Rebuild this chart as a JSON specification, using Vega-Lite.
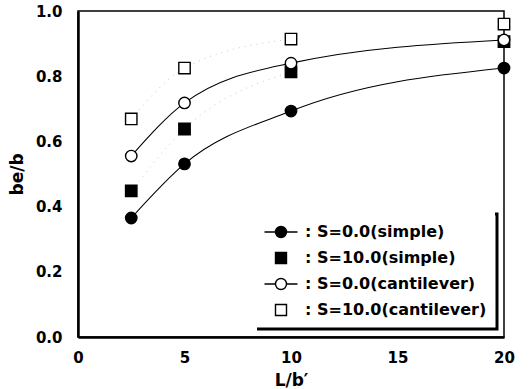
{
  "$schema": "https://vega.github.io/schema/vega-lite/v6.json",
  "width": 426,
  "height": 326,
  "autosize": "none",
  "padding": {"left": 78, "top": 11, "right": 28, "bottom": 52},
  "background": "white",
  "config": {
    "view": {"stroke": "black", "strokeWidth": 1.5},
    "font": "DejaVu Sans"
  },
  "data": {
    "values": [
      {"x": 2.5, "y": 0.365, "series": "S=0.0(simple)"},
      {"x": 5, "y": 0.531, "series": "S=0.0(simple)"},
      {"x": 10, "y": 0.693, "series": "S=0.0(simple)"},
      {"x": 20, "y": 0.825, "series": "S=0.0(simple)"},
      {"x": 2.5, "y": 0.448, "series": "S=10.0(simple)"},
      {"x": 5, "y": 0.638, "series": "S=10.0(simple)"},
      {"x": 10, "y": 0.813, "series": "S=10.0(simple)"},
      {"x": 20, "y": 0.906, "series": "S=10.0(simple)"},
      {"x": 2.5, "y": 0.555, "series": "S=0.0(cantilever)"},
      {"x": 5, "y": 0.718, "series": "S=0.0(cantilever)"},
      {"x": 10, "y": 0.84, "series": "S=0.0(cantilever)"},
      {"x": 20, "y": 0.911, "series": "S=0.0(cantilever)"},
      {"x": 2.5, "y": 0.669, "series": "S=10.0(cantilever)"},
      {"x": 5, "y": 0.825, "series": "S=10.0(cantilever)"},
      {"x": 10, "y": 0.914, "series": "S=10.0(cantilever)"},
      {"x": 20, "y": 0.96, "series": "S=10.0(cantilever)"}
    ]
  },
  "encoding": {
    "x": {
      "field": "x",
      "type": "quantitative",
      "scale": {"domain": [0, 20], "nice": false, "zero": false},
      "axis": {
        "values": [0, 5, 10, 15, 20],
        "format": "d",
        "labelFontSize": 15,
        "labelFontWeight": "bold",
        "labelColor": "black",
        "labelFlush": false,
        "domainColor": "black",
        "domainWidth": 2.5,
        "ticks": false,
        "grid": false,
        "labelPadding": 13,
        "title": "L/b′",
        "titleFontSize": 17,
        "titleFontWeight": "bold",
        "titleColor": "black",
        "titlePadding": 7
      }
    },
    "y": {
      "field": "y",
      "type": "quantitative",
      "scale": {"domain": [0, 1], "nice": false},
      "axis": {
        "values": [0, 0.2, 0.4, 0.6, 0.8, 1.0],
        "format": ".1f",
        "labelFontSize": 15,
        "labelFontWeight": "bold",
        "labelColor": "black",
        "labelFlush": false,
        "domainColor": "black",
        "domainWidth": 2.5,
        "ticks": false,
        "grid": false,
        "labelPadding": 16,
        "title": "be/b",
        "titleFontSize": 17,
        "titleFontWeight": "bold",
        "titleColor": "black",
        "titlePadding": 9
      }
    }
  },
  "layer": [
    {
      "transform": [{"filter": "indexof(datum.series, 'S=0.0') == 0"}],
      "mark": {"type": "line", "interpolate": "monotone", "color": "black", "strokeWidth": 1.1},
      "encoding": {"detail": {"field": "series"}}
    },
    {
      "transform": [{"filter": "indexof(datum.series, 'S=10.0') == 0 && datum.x < 15"}],
      "mark": {"type": "line", "interpolate": "monotone", "color": "#c8c8c8", "strokeWidth": 1, "strokeDash": [1, 5]},
      "encoding": {"detail": {"field": "series"}}
    },
    {
      "mark": {"type": "point", "filled": true, "stroke": "black", "strokeWidth": 1.4, "size": 130, "opacity": 1},
      "encoding": {
        "shape": {
          "field": "series",
          "type": "nominal",
          "scale": {
            "domain": ["S=0.0(simple)", "S=10.0(simple)", "S=0.0(cantilever)", "S=10.0(cantilever)"],
            "range": ["circle", "square", "circle", "square"]
          },
          "legend": null
        },
        "fill": {
          "field": "series",
          "type": "nominal",
          "scale": {
            "domain": ["S=0.0(simple)", "S=10.0(simple)", "S=0.0(cantilever)", "S=10.0(cantilever)"],
            "range": ["black", "black", "white", "white"]
          },
          "legend": null
        }
      }
    },
    {
      "mark": {"type": "point", "filled": true, "stroke": "black", "strokeWidth": 1.4, "size": 121, "opacity": 0},
      "encoding": {
        "shape": {
          "field": "series",
          "type": "nominal",
          "scale": {
            "domain": ["S=0.0(simple)", "S=10.0(simple)", "S=0.0(cantilever)", "S=10.0(cantilever)"],
            "range": ["M-3,0L-1,0M1,0L3,0M-1,0A1,1,0,1,1,1,0A1,1,0,1,1,-1,0Z", "square", "M-3,0L-1,0M1,0L3,0M-1,0A1,1,0,1,1,1,0A1,1,0,1,1,-1,0Z", "square"]
          },
          "legend": {
            "title": null,
            "orient": "none",
            "legendX": 174,
            "legendY": 203,
            "padding": 10,
            "symbolSize": 121,
            "symbolOpacity": 1,
            "symbolStrokeColor": "black",
            "symbolStrokeWidth": 1.4,
            "symbolOffset": 11,
            "labelOffset": 16,
            "labelFontSize": 16,
            "labelFontWeight": "bold",
            "labelColor": "black",
            "labelLimit": 300,
            "labelExpr": "': ' + datum.label",
            "rowPadding": 8,
            "strokeColor": "black",
            "fillColor": "white",
            "encode": {
              "legend": {"update": {"strokeDash": {"value": [0, 243, 357, 400]}, "strokeWidth": {"value": 3}}},
              "symbols": {"update": {"opacity": {"value": 1}}}
            }
          }
        },
        "fill": {
          "field": "series",
          "type": "nominal",
          "scale": {
            "domain": ["S=0.0(simple)", "S=10.0(simple)", "S=0.0(cantilever)", "S=10.0(cantilever)"],
            "range": ["black", "black", "white", "white"]
          },
          "legend": {
            "title": null,
            "orient": "none",
            "legendX": 174,
            "legendY": 203,
            "padding": 10,
            "symbolSize": 121,
            "symbolOpacity": 1,
            "symbolStrokeColor": "black",
            "symbolStrokeWidth": 1.4,
            "symbolOffset": 11,
            "labelOffset": 16,
            "labelFontSize": 16,
            "labelFontWeight": "bold",
            "labelColor": "black",
            "labelLimit": 300,
            "labelExpr": "': ' + datum.label",
            "rowPadding": 8,
            "strokeColor": "black",
            "fillColor": "white",
            "encode": {
              "legend": {"update": {"strokeDash": {"value": [0, 243, 357, 400]}, "strokeWidth": {"value": 3}}},
              "symbols": {"update": {"opacity": {"value": 1}}}
            }
          }
        }
      }
    }
  ],
  "resolve": {"scale": {"shape": "independent", "fill": "independent"}}
}
